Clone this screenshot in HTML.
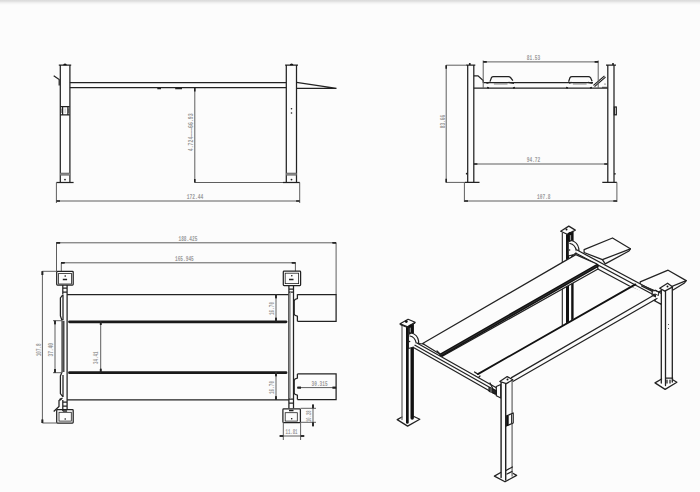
<!DOCTYPE html>
<html><head><meta charset="utf-8">
<style>
html,body{margin:0;padding:0;background:#fcfcfc;width:700px;height:492px;overflow:hidden}
svg{display:block}
text{font-family:"Liberation Mono",monospace;fill:#9a9a9a;font-size:7.4px;font-weight:bold}
.k{stroke:#222;stroke-width:1.25;fill:none}
.d{stroke:#5e5e5e;stroke-width:1;fill:none}
.ar{stroke:#222;stroke-width:1.6;fill:none;stroke-linecap:butt}
.g{stroke:#999;stroke-width:0.8;fill:none}
</style></head><body>
<svg width="700" height="492" viewBox="0 0 700 492">
<defs>
<linearGradient id="tg" x1="0" y1="0" x2="0" y2="1">
<stop offset="0" stop-color="#dadada"/><stop offset="0.25" stop-color="#e0e0e0"/><stop offset="0.5" stop-color="#eeeeee"/><stop offset="0.75" stop-color="#f7f7f7"/><stop offset="1" stop-color="#fcfcfc"/>
</linearGradient>
</defs>
<rect x="0" y="0" width="700" height="5" fill="url(#tg)"/>

<!-- ===== Side view (top-left) ===== -->
<g id="side">
<!-- left post -->
<path class="k" d="M60.3 65.2V182.5M69.9 65.2V182.5M58.8 65.2H71.2"/>
<path d="M63.2 65.2A1.8 1.8 0 0 1 66.8 65.2Z" fill="#111"/>
<path class="k" d="M53.7 75.7L59.2 79.5V85.5"/>
<path class="k" d="M60.2 106.7H69.7M60.2 114.9H69.7M62.6 106.7V114.9M67.9 106.7V114.9" stroke-width="1"/><path d="M61.2 108.5V113M68.7 108.5V113" stroke="#333" stroke-width="0.7"/><path d="M65.2 108.5V113" stroke="#ccc" stroke-width="1.2"/>
<rect x="60.3" y="172.9" width="9.6" height="2.4" fill="#999"/><path d="M60.3 173.2H69.9M60.3 175.1H69.9" stroke="#555" stroke-width="0.7"/>
<circle cx="65" cy="179.6" r="0.9" fill="#222"/>
<path class="k" d="M56.4 182.5H73.6"/>
<!-- beam -->
<path class="k" d="M69.9 82.5H286.3M69.9 87.6H286.3"/>
<path class="k" d="M157.3 88.5H161M175.2 88.5H182" stroke-width="0.9"/>
<!-- right post -->
<path class="k" d="M286.3 65.2V182.5M296.5 65.2V182.5M285.1 65.2H298"/>
<path d="M289.8 65.2A1.8 1.8 0 0 1 293.4 65.2Z" fill="#111"/>
<circle cx="291.5" cy="108.8" r="0.8" fill="#222"/>
<circle cx="291.5" cy="113" r="0.8" fill="#222"/>
<rect x="286.3" y="172.9" width="10.2" height="2.4" fill="#999"/><path d="M286.3 173.2H296.5M286.3 175.1H296.5" stroke="#555" stroke-width="0.7"/>
<circle cx="291.5" cy="179.6" r="0.9" fill="#222"/>
<!-- ramp -->
<path class="k" d="M296.5 82.3L336.5 88.3M296.5 88.3H336.5"/>
<!-- dims -->
<path class="d" d="M194.8 88V182.5M194.8 182.5H299.7"/>
<path class="k" d="M283 182.5H299.7" />
<path class="d" d="M56.4 182.5V203M299.7 182.5V203M56.4 201H299.7"/>
<text x="195" y="199" text-anchor="middle" textLength="16.5" lengthAdjust="spacingAndGlyphs">172.44</text>
<text transform="translate(193 132.3) rotate(-90)" text-anchor="middle" textLength="37.8" lengthAdjust="spacingAndGlyphs" font-size="5">4.724———66.93</text>
<path class="ar" d="M56.4 201.0L60.0 201.0M299.7 201.0L296.1 201.0M194.8 88.0L194.8 91.6M194.8 182.5L194.8 178.9"/>
</g>

<g id="front">
<path class="k" d="M467.7 65.2V182.4M473.8 65.2V182.4M466.2 65.2H475.3"/>
<circle cx="469.8" cy="64" r="1" fill="#111"/>
<path class="k" d="M607.8 65.2V182.4M614 65.2V182.4M606 65.2H616"/>
<circle cx="613" cy="64" r="1" fill="#111"/>
<rect class="k" x="614.3" y="107" width="2" height="7.8" stroke-width="0.9"/>
<circle cx="466.7" cy="173.7" r="0.9" fill="#222"/><circle cx="614.9" cy="173.8" r="0.9" fill="#222"/>
<!-- platform -->
<path class="k" d="M473.8 88.1H607.8M483.5 82.7H593"/>
<path d="M493.9 83.9H507.5M572.9 83.9H586.6" stroke="#888" stroke-width="1.2"/>
<path d="M486.5 83.2L489.5 82.4M508.5 82.4L514 83.3M569 83L571.5 82.4M588 82.4L592.5 83.3M487 87.5L489 88M513 88L515 87.5M566 87.5L568 88M590 88L592 87.5" stroke="#222" stroke-width="1.4"/>
<!-- brackets -->
<path class="k" d="M473.8 75.8H478L483.2 80.5V82.7" stroke-width="1"/>
<path d="M594 86L605 76.5" stroke="#222" stroke-width="2.8"/>
<path d="M594 86L605 76.5" stroke="#bbb" stroke-width="1"/>
<circle cx="605" cy="84" r="0.6" fill="#222"/>
<path d="M602 87.3H607" stroke="#333" stroke-width="0.9"/>
<!-- wheel stops -->
<path class="k" d="M490 81.6L491.5 77.5Q492 76.5 493.5 76.5H508.5Q509.6 76.5 510.5 77.5L512.9 80.6"/>
<path class="k" d="M568.6 81.7L570 77.6Q570.6 76.6 572 76.6H588.5Q589.6 76.6 590.5 77.6L592.1 81.3"/>
<!-- base plates -->
<path class="k" d="M464.9 182.4H479.5M602.3 182.4H616.9"/>
<!-- dims -->
<path class="d" d="M446.2 65.2H467M446.2 65.2V182.4M446.2 182.4H465"/>
<path class="d" d="M483.2 60.5V88M598.2 60.5V88M483.2 61.9H598.2"/>
<path class="d" d="M473.8 164H607.8"/>
<path class="d" d="M464.4 182.4V202M616.9 182.4V202M464.4 201H616.9"/>
<text x="533.5" y="60" text-anchor="middle" textLength="13.5" lengthAdjust="spacingAndGlyphs">81.53</text>
<text x="533.5" y="162" text-anchor="middle" textLength="13.5" lengthAdjust="spacingAndGlyphs">94.72</text>
<text x="543.8" y="199" text-anchor="middle" textLength="13.5" lengthAdjust="spacingAndGlyphs">107.8</text>
<text transform="translate(444.5 121.5) rotate(-90)" text-anchor="middle" textLength="13.5" lengthAdjust="spacingAndGlyphs">83.66</text>
<path class="ar" d="M446.2 65.2L446.2 68.8M446.2 182.4L446.2 178.8M483.2 61.9L486.8 61.9M598.2 61.9L594.6 61.9M473.8 164.0L477.4 164.0M607.8 164.0L604.2 164.0M464.4 201.0L468.0 201.0M616.9 201.0L613.3 201.0"/>
</g>

<g id="top">
<path class="d" d="M56.5 242.8H336.1M56.5 242.8V271.3M336.1 242.8V294.5"/>
<path class="d" d="M61.3 262.8H295.4M61.3 262.8V271.3M295.4 262.8V271.1"/>
<text x="187.9" y="241.1" text-anchor="middle" textLength="18.9" lengthAdjust="spacingAndGlyphs">188.425</text>
<text x="184.4" y="260.8" text-anchor="middle" textLength="18.8" lengthAdjust="spacingAndGlyphs">165.945</text>
<!-- post bases -->
<g class="k" stroke-width="1">
<rect x="56.7" y="271.3" width="16.5" height="13.7" rx="0.8"/>
<rect x="58.6" y="273.4" width="12.8" height="10.6" stroke-width="0.8"/>
<rect x="283.3" y="271.1" width="17.3" height="14.4" rx="0.8"/>
<rect x="285.2" y="273.2" width="13.4" height="10.4" stroke-width="0.8"/>
<rect x="56.7" y="409.6" width="16.5" height="13.4" rx="0.8"/>
<rect x="59" y="412.3" width="12.3" height="8.8" stroke-width="0.8"/>
<rect x="282.9" y="408.9" width="17.5" height="13.7" rx="0.8"/>
<rect x="285.2" y="412.7" width="12.1" height="8.4" stroke-width="0.8"/>
<path class="ar" d="M56.5 242.8L60.1 242.8M336.1 242.8L332.5 242.8M61.0 262.8L64.6 262.8M295.4 262.8L291.8 262.8M42.4 271.3L42.4 274.9M42.4 423.0L42.4 419.4M55.0 320.7L55.0 324.3M55.0 372.7L55.0 369.1M100.7 321.5L100.7 325.1M100.7 372.3L100.7 368.7M276.0 294.6L276.0 298.2M276.0 321.3L276.0 317.7M276.0 372.7L276.0 376.3M276.0 399.8L276.0 396.2M297.4 387.6L301.0 387.6M336.1 387.6L332.5 387.6M313.0 408.3L313.0 404.7M313.0 422.3L313.0 425.9M283.3 436.0L279.7 436.0M300.6 436.0L304.2 436.0"/>
</g>
<circle cx="65.2" cy="276" r="0.8" fill="#111"/>
<circle cx="291.8" cy="275.8" r="0.8" fill="#111"/>
<circle cx="65.2" cy="419" r="0.8" fill="#111"/>
<circle cx="291.7" cy="418.8" r="0.8" fill="#111"/>
<path d="M62.8 279.5H67.1M289 279.5H293.5M62.8 411H67.1M289 410.5H293.5" stroke="#222" stroke-width="1.6"/>
<!-- necks -->
<path class="k" d="M62.8 285V294M67.1 285V409.6M62.8 400V411M62.8 288H67.1M62.8 292H67.1M62.8 402H67.1M62.8 406H67.1" stroke-width="0.9"/>
<path class="k" d="M288.9 285.5V408.3M293.5 285.5V408.3M289 289H293.5M289 292H293.5M289 399H293.5M289 403H293.5" stroke-width="1"/>
<path class="g" d="M290.5 292V399" stroke-width="0.7"/>
<!-- cylinders -->
<path class="k" d="M63 294.5L60.4 298V316L62.1 320.7M63 294.5V320" stroke-width="0.9"/>
<path class="k" d="M62.1 372L60.4 376V393.5L63 397M63 374.9V397" stroke-width="0.9"/>
<path class="k" d="M62.1 320.7V372M63.8 320.7V372" stroke-width="0.9"/>
<path class="k" d="M53.7 411.5L59 406.5V400.5L62.5 398" stroke-width="1.1"/><circle cx="60.5" cy="399.3" r="1.1" fill="#222"/>
<!-- runways -->
<path class="k" d="M67.1 294.6H288.4M297.4 294.6H336.1V321.3H297.4"/>
<path d="M69.5 321.8H286" stroke="#1a1a1a" stroke-width="2.8" stroke-linecap="round"/>
<path d="M69.5 372.7H286" stroke="#1a1a1a" stroke-width="2.8" stroke-linecap="round"/>
<path class="k" d="M67.1 399.8H289M297.4 373.9H336.1V399.6H297.4"/>
<path class="k" d="M297.4 294.3V298.5L295 299.5L294.2 301V314L295 315.3L297.4 316.2V321.3M297.4 373.9V378L295 379L294.2 380.5V393L295 394.3L297.4 395.2V399.6" stroke-width="1"/>
<path class="d" d="M297.6 387.6H336.1"/>
<!-- dims -->
<path class="d" d="M42.4 271.3H56.7M42.4 271.3V423M42.4 423H56.7"/>
<path class="d" d="M55 320.7V372.7M53 320.7H62M53 372.7H62"/>
<path class="d" d="M100.7 321.5V372.3"/>
<path class="d" d="M276 294.3V321.3M276 372.3V399.5"/>
<path class="d" d="M313 404V427M300.6 408.3H316M300.6 422.3H316"/>
<path class="d" d="M283.3 422.3V440M300.6 422.3V440M281 436H303"/>
<text transform="translate(40.5 349.8) rotate(-90)" text-anchor="middle" textLength="13" lengthAdjust="spacingAndGlyphs">107.8</text>
<text transform="translate(52.5 349.8) rotate(-90)" text-anchor="middle" textLength="13.5" lengthAdjust="spacingAndGlyphs">37.40</text>
<text transform="translate(98 357.8) rotate(-90)" text-anchor="middle" textLength="12.5" lengthAdjust="spacingAndGlyphs">34.41</text>
<text transform="translate(273.8 308.5) rotate(-90)" text-anchor="middle" textLength="13" lengthAdjust="spacingAndGlyphs">16.70</text>
<text transform="translate(273.8 387.5) rotate(-90)" text-anchor="middle" textLength="13" lengthAdjust="spacingAndGlyphs">16.70</text>
<text x="319.6" y="386" text-anchor="middle" textLength="16" lengthAdjust="spacingAndGlyphs">30.315</text>
<text transform="translate(310.5 416.2) rotate(-90)" text-anchor="middle" textLength="11.5" lengthAdjust="spacingAndGlyphs">10.28</text>
<text x="291.5" y="434" text-anchor="middle" textLength="12" lengthAdjust="spacingAndGlyphs">11.81</text>
<path class="ar" d="M56.5 242.8L60.1 242.8M336.1 242.8L332.5 242.8M61.0 262.8L64.6 262.8M295.4 262.8L291.8 262.8M42.4 271.3L42.4 274.9M42.4 423.0L42.4 419.4M55.0 320.7L55.0 324.3M55.0 372.7L55.0 369.1M100.7 321.5L100.7 325.1M100.7 372.3L100.7 368.7M276.0 294.6L276.0 298.2M276.0 321.3L276.0 317.7M276.0 372.7L276.0 376.3M276.0 399.8L276.0 396.2M297.4 387.6L301.0 387.6M336.1 387.6L332.5 387.6M313.0 408.3L313.0 404.7M313.0 422.3L313.0 425.9M283.3 436.0L279.7 436.0M300.6 436.0L304.2 436.0"/>
</g>

<g id="iso" stroke-linejoin="round" stroke-linecap="round">
<!-- ramps (behind) -->
<path class="k" d="M584.1 249.7L612.5 238L630.4 248.8L629 251L605.2 263.9L602.4 259.7L584.1 252.5Z" style="fill:#fcfcfc"/>
<path class="k" d="M602.4 259.7L630.4 248.8" stroke-width="0.8"/>
<path class="k" d="M640.2 281.8L668.1 270.2L686.2 280.6L684.5 283L673 290L658 292L640.2 284.5Z" style="fill:#fcfcfc"/>
<path class="k" d="M658 292L686.2 280.6" stroke-width="0.8"/>
<!-- BL post -->
<path d="M562.3 232V326H573.6V231Z" style="fill:#fcfcfc"/>
<path d="M562.3 233V326" stroke="#222" stroke-width="1.1"/>
<path d="M567.5 235V326" stroke="#111" stroke-width="3"/>
<path d="M572.4 232V324" stroke="#111" stroke-width="2.4"/>
<path class="k" d="M560.7 231.3L568.8 226.1L575.3 230.1L567.2 234.2Z" style="fill:#fcfcfc"/>
<circle cx="566.5" cy="229.5" r="1" fill="#111"/>
<path d="M570.3 234.5V241" stroke="#111" stroke-width="5"/>
<path d="M570.5 235.5V240" stroke="#999" stroke-width="1.2"/>
<path class="k" d="M568.2 242L571.5 240.5Q577.5 242 578.8 248.5V251L574 254.5L568.2 256Z" style="fill:#fcfcfc" stroke-width="1.1"/>
<path class="k" d="M570 243.5Q575 244.5 576.3 250.5" stroke-width="0.9"/>
<circle cx="569.6" cy="250" r="0.8" fill="#222"/>
<!-- back crossbeam -->
<path d="M576.6 249.8L654 291.3L652.2 298.3L575.5 257Z" style="fill:#fcfcfc"/>
<path class="k" d="M576.6 249.8L654 291.3M576 253.2L653 294.5M575.5 257L652.2 298.3"/>
<!-- runway 1 -->
<path class="k" d="M422.6 343.5L575.8 254.6L597 264L598 269L441 357L441 354.7Z" style="fill:#fcfcfc"/>
<path d="M441 355L597 265.8" stroke="#111" stroke-width="3.6"/>
<path d="M441 355L597 265.8" stroke="#666" stroke-width="0.4"/>
<!-- BR post -->
<path d="M661.6 289V383.5L665.7 386L672.7 382V287Z" style="fill:#fcfcfc"/>
<path class="k" d="M659.7 288.3L667.6 283.2L672.7 286.9L664.8 291.1Z" style="fill:#fcfcfc"/>
<circle cx="667.5" cy="286.5" r="1" fill="#111"/>
<path class="k" d="M655 382.9L661.6 379M672.7 379.8L676.9 382.3L665.1 389.4L655 382.9" style="fill:#fcfcfc"/>
<path d="M661.3 290V383M665.5 291V385.5M672.3 287V382" stroke="#222" stroke-width="1.3"/>
<path class="k" d="M666 378H672.7M667 380V383M670 380V383" stroke-width="0.7"/>
<circle cx="668.5" cy="324.5" r="0.5" fill="#222"/><circle cx="668.5" cy="328.5" r="0.5" fill="#222"/>
<path class="k" d="M641.5 285.9L654.9 292.6" stroke-width="1"/>
<path class="k" d="M652.2 291L655.5 290.4L661.3 293.5V304.4L652.2 299.5Z" style="fill:#fcfcfc" stroke-width="1.1"/>
<path d="M652.8 293.5L656 295V301L652.8 299.3Z" fill="#222"/>
<path d="M655.5 290.4L658.5 292V295.5L655 294" stroke="#222" stroke-width="0.9" fill="none"/>
<!-- runway 2 -->
<path d="M477.9 374.1L630.2 286.3L657 298L512.8 381.5L498.5 386Z" style="fill:#fcfcfc"/>
<path d="M477.9 374.1L635.4 284.4" stroke="#111" stroke-width="1.8"/>
<path class="k" d="M511.5 377.6L655 294.5M512.8 381.5L657 298.5"/>
<path class="k" d="M474 375.5L478 378L480 376" stroke-width="0.8"/>
<!-- FL post -->
<path d="M402 324V419.5L407 422.5L413.9 418V323Z" style="fill:#fcfcfc"/>
<path class="k" d="M397.2 419.6L402 417M413.9 416.5L419.8 419.3L407.6 426.1L397.2 419.6" style="fill:#fcfcfc"/>
<path d="M402 324.5V419.5" stroke="#6a6a6a" stroke-width="1.3"/>
<path d="M407.35 327V422.5" stroke="#111" stroke-width="2.7"/>
<path d="M412.2 324V418" stroke="#111" stroke-width="3.4"/>
<path class="k" d="M400.1 323.8L408.1 319.3L415.1 322.3L407.6 326.8Z" style="fill:#fcfcfc"/><path d="M400.1 324.6L407.6 327.6L415.1 323.1" stroke="#222" stroke-width="1" fill="none"/>
<circle cx="406.3" cy="321.6" r="1.4" fill="#111"/>
<path d="M410.8 327V333" stroke="#111" stroke-width="5"/>
<path d="M410.3 328V332" stroke="#999" stroke-width="1.2"/>
<path class="k" d="M408.4 334.5L411.5 333Q417.5 334.5 418.6 341V343.5L414 347L408.4 348.5Z" style="fill:#fcfcfc" stroke-width="1.1"/>
<path class="k" d="M410 336Q415 337 416.2 343" stroke-width="0.9"/>
<circle cx="409.6" cy="341.5" r="0.8" fill="#222"/>
<!-- front crossbeam -->
<path d="M416.9 343L499.9 389.7L495 394L413 347.3Z" style="fill:#fcfcfc"/>
<path class="k" d="M416.9 343L499.9 389.7M413 347.3L495 394"/>
<path class="k" d="M415 345.2L497.5 391.8" stroke-width="0.6"/>
<path class="k" d="M418 343.5L424 344M437 351L441 355M474.5 372L477.9 374.1M490 383L494 391" stroke-width="0.8"/>
<path class="k" d="M496.3 386.5L500.8 384.5V398L496.3 395.8Z" style="fill:#fcfcfc" stroke-width="1"/>
<path d="M489.2 387.5L496.3 390.5V394.5L489.2 391.5Z" fill="#222" stroke="#111" stroke-width="0.8"/>
<path d="M491 388.5V392.5" stroke="#ddd" stroke-width="0.6"/>
<!-- FR post -->
<path d="M501.1 382V477L505.7 480L512.1 476V380Z" style="fill:#fcfcfc"/>
<path class="k" d="M494.4 476.1L500.7 472.5M512.4 473L516.6 475.4L505 481.8L494.4 476.1" style="fill:#fcfcfc"/>
<path d="M501.1 382V477.5M505.7 384V480" stroke="#222" stroke-width="1.4"/><path d="M512.1 380V476" stroke="#777" stroke-width="1.4"/>
<path class="k" d="M506 470.5L512.4 467M507 474L512 471.5" stroke-width="0.8"/>
<path class="k" d="M499.8 381.5L507.2 376.6L512.8 379.8L506.3 383.6Z" style="fill:#fcfcfc"/>
<circle cx="507.5" cy="379.5" r="1" fill="#111"/>
<path class="k" d="M506.3 416L513.2 413V423L506.3 426Z" style="fill:#fcfcfc" stroke-width="1"/>
<path d="M507.6 416V425" stroke="#111" stroke-width="2.2"/>
<path d="M511.5 414.5V423.5" stroke="#333" stroke-width="1"/>
</g>

</svg>
</body></html>
